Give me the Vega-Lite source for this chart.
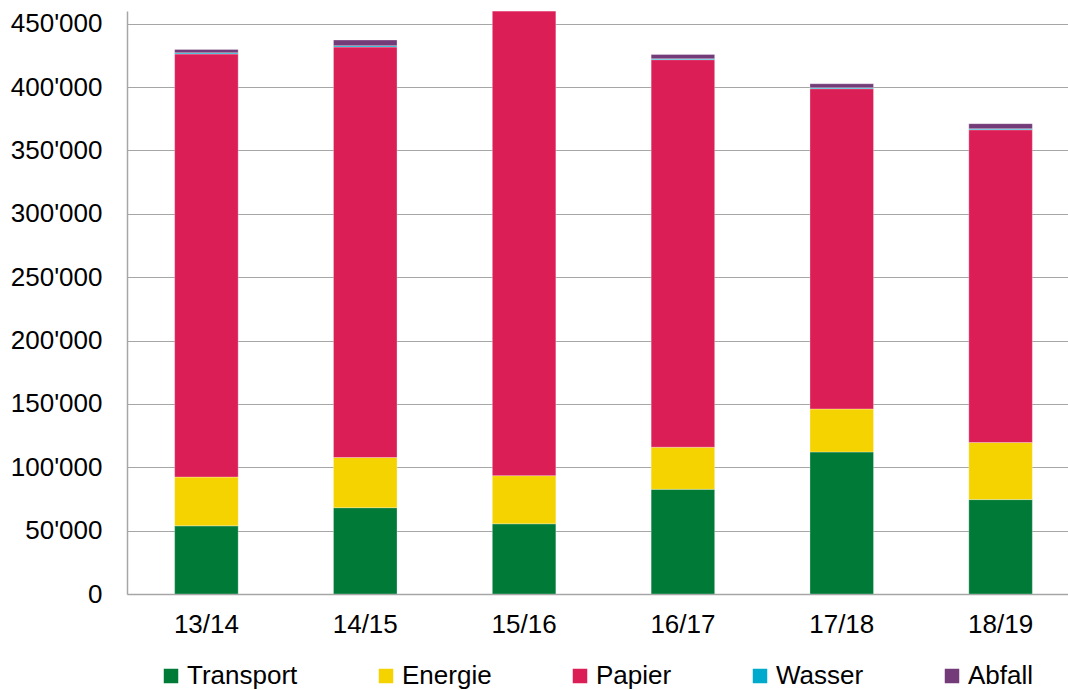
{
  "$schema": "https://vega.github.io/schema/vega-lite/v6.json",
  "width": 953,
  "height": 583,
  "autosize": {"type": "none"},
  "padding": {"left": 127, "top": 11, "right": 0, "bottom": 96},
  "background": "white",
  "config": {
    "locale": {
      "number": {"decimal": ".", "thousands": "'", "grouping": [3], "currency": ["", ""]}
    },
    "font": "Liberation Sans",
    "view": {"stroke": null}
  },
  "data": {
    "values": [
      {"jahr": "13/14", "kategorie": "Transport", "wert": 53800},
      {"jahr": "13/14", "kategorie": "Energie", "wert": 38500},
      {"jahr": "13/14", "kategorie": "Papier", "wert": 333800},
      {"jahr": "13/14", "kategorie": "Wasser", "wert": 900},
      {"jahr": "13/14", "kategorie": "Abfall", "wert": 2700},
      {"jahr": "14/15", "kategorie": "Transport", "wert": 68100},
      {"jahr": "14/15", "kategorie": "Energie", "wert": 39600},
      {"jahr": "14/15", "kategorie": "Papier", "wert": 323900},
      {"jahr": "14/15", "kategorie": "Wasser", "wert": 1000},
      {"jahr": "14/15", "kategorie": "Abfall", "wert": 4500},
      {"jahr": "15/16", "kategorie": "Transport", "wert": 55400},
      {"jahr": "15/16", "kategorie": "Energie", "wert": 38000},
      {"jahr": "15/16", "kategorie": "Papier", "wert": 366600},
      {"jahr": "15/16", "kategorie": "Wasser", "wert": 900},
      {"jahr": "15/16", "kategorie": "Abfall", "wert": 3500},
      {"jahr": "16/17", "kategorie": "Transport", "wert": 82600},
      {"jahr": "16/17", "kategorie": "Energie", "wert": 33200},
      {"jahr": "16/17", "kategorie": "Papier", "wert": 305800},
      {"jahr": "16/17", "kategorie": "Wasser", "wert": 700},
      {"jahr": "16/17", "kategorie": "Abfall", "wert": 3400},
      {"jahr": "17/18", "kategorie": "Transport", "wert": 112100},
      {"jahr": "17/18", "kategorie": "Energie", "wert": 33900},
      {"jahr": "17/18", "kategorie": "Papier", "wert": 252700},
      {"jahr": "17/18", "kategorie": "Wasser", "wert": 800},
      {"jahr": "17/18", "kategorie": "Abfall", "wert": 3100},
      {"jahr": "18/19", "kategorie": "Transport", "wert": 74500},
      {"jahr": "18/19", "kategorie": "Energie", "wert": 45000},
      {"jahr": "18/19", "kategorie": "Papier", "wert": 246800},
      {"jahr": "18/19", "kategorie": "Wasser", "wert": 800},
      {"jahr": "18/19", "kategorie": "Abfall", "wert": 4000}
    ]
  },
  "transform": [
    {"calculate": "indexof(['Transport', 'Energie', 'Papier', 'Wasser', 'Abfall'], datum.kategorie)", "as": "stapel"}
  ],
  "mark": {"type": "bar", "clip": true, "stroke": "white", "strokeWidth": 0.5, "strokeOpacity": 0.6},
  "encoding": {
    "x": {
      "field": "jahr",
      "type": "nominal",
      "sort": null,
      "title": null,
      "scale": {"paddingInner": 0.6, "paddingOuter": 0.3},
      "axis": {
        "labelAngle": 0,
        "labelFontSize": 26,
        "labelColor": "black",
        "labelPadding": 17,
        "ticks": false,
        "domainColor": "#a6a6a6",
        "domainWidth": 1.5
      }
    },
    "y": {
      "field": "wert",
      "type": "quantitative",
      "stack": "zero",
      "title": null,
      "scale": {"domain": [0, 460000], "nice": false},
      "axis": {
        "values": [0, 50000, 100000, 150000, 200000, 250000, 300000, 350000, 400000, 450000],
        "format": ",d",
        "labelFontSize": 26,
        "labelColor": "black",
        "labelPadding": 25,
        "ticks": false,
        "domainColor": "#a6a6a6",
        "domainWidth": 1.5,
        "gridColor": "#a6a6a6",
        "gridWidth": 1.2
      }
    },
    "order": {"field": "stapel", "type": "quantitative", "sort": "ascending"},
    "color": {
      "field": "kategorie",
      "type": "nominal",
      "sort": ["Transport", "Energie", "Papier", "Wasser", "Abfall"],
      "title": null,
      "scale": {
        "domain": ["Transport", "Energie", "Papier", "Wasser", "Abfall"],
        "range": ["#007A37", "#F5D300", "#DB1F56", "#00AACC", "#733B78"]
      },
      "legend": {
        "orient": "none",
        "legendX": 31,
        "legendY": 652,
        "direction": "horizontal",
        "columns": 5,
        "columnPadding": 75,
        "symbolType": "square",
        "symbolSize": 210,
        "symbolStrokeWidth": 0,
        "symbolOpacity": 1,
        "labelFontSize": 26,
        "labelColor": "black",
        "labelOffset": 3,
        "padding": 0
      }
    }
  }
}
